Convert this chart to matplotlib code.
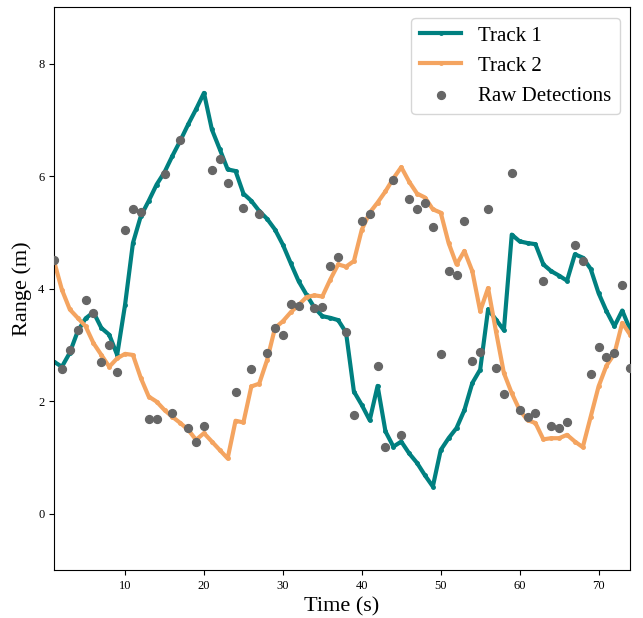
import matplotlib
matplotlib.use("Agg")
import matplotlib.pyplot as plt
import numpy as np

plt.rcParams["font.family"] = ["Liberation Serif", "DejaVu Serif"]

# time steps (s)
t = np.arange(1, 75)

track1 = [2.70, 2.61, 2.86, 3.24, 3.47, 3.58, 3.30, 3.18, 2.82, 3.71,
          4.81, 5.29, 5.56, 5.85, 6.07, 6.36, 6.63, 6.92, 7.19, 7.48,
          6.83, 6.48, 6.12, 6.09, 5.69, 5.56, 5.38, 5.24, 5.05, 4.78,
          4.45, 4.13, 3.89, 3.66, 3.51, 3.48, 3.44, 3.22, 2.17, 1.93,
          1.66, 2.27, 1.46, 1.19, 1.28, 1.07, 0.90, 0.68, 0.48, 1.13,
          1.34, 1.52, 1.84, 2.32, 2.56, 3.63, 3.45, 3.26, 4.96, 4.84,
          4.81, 4.79, 4.43, 4.31, 4.23, 4.14, 4.61, 4.55, 4.35, 3.92,
          3.60, 3.33, 3.61, 3.27]

track2 = [4.49, 3.98, 3.63, 3.48, 3.33, 3.03, 2.82, 2.61, 2.76, 2.84,
          2.82, 2.41, 2.08, 1.99, 1.84, 1.72, 1.61, 1.49, 1.31, 1.43,
          1.28, 1.13, 0.98, 1.65, 1.62, 2.26, 2.31, 2.73, 3.30, 3.42,
          3.58, 3.71, 3.85, 3.88, 3.86, 4.16, 4.43, 4.39, 4.49, 5.05,
          5.35, 5.53, 5.73, 5.96, 6.16, 5.90, 5.69, 5.62, 5.41, 5.35,
          4.81, 4.43, 4.67, 4.31, 3.60, 4.01, 3.24, 2.50, 2.14, 1.84,
          1.66, 1.61, 1.32, 1.34, 1.34, 1.40, 1.28, 1.18, 1.72, 2.26,
          2.63, 2.84, 3.39, 3.18]

# raw detections (one per step, none at t=33)
det_t = [1, 2, 3, 4, 5, 6, 7, 8, 9, 10, 11, 12, 13, 14, 15, 16, 17, 18, 19, 20,
         21, 22, 23, 24, 25, 26, 27, 28, 29, 30, 31, 32, 34, 35, 36, 37, 38, 39, 40,
         41, 42, 43, 44, 45, 46, 47, 48, 49, 50, 51, 52, 53, 54, 55, 56, 57, 58, 59,
         60, 61, 62, 63, 64, 65, 66, 67, 68, 69, 70, 71, 72, 73, 74]
det_r = [4.50, 2.57, 2.90, 3.27, 3.80, 3.57, 2.69, 3.00, 2.51, 5.04,
         5.42, 5.37, 1.69, 1.69, 6.04, 1.78, 6.64, 1.53, 1.28, 1.56,
         6.11, 6.31, 5.88, 2.17, 5.44, 2.57, 5.32, 2.85, 3.30, 3.18,
         3.73, 3.69, 3.66, 3.67, 4.40, 4.56, 3.22, 1.75, 5.20,
         5.33, 2.63, 1.19, 5.93, 1.39, 5.60, 5.41, 5.52, 5.10, 2.84,
         4.31, 4.24, 5.21, 2.72, 2.88, 5.41, 2.59, 2.12, 6.05, 1.84,
         1.71, 1.79, 4.14, 1.56, 1.52, 1.62, 4.77, 4.49, 2.48, 2.97,
         2.79, 2.85, 4.07, 2.59]

fig, ax = plt.subplots(figsize=(6.43, 6.18), dpi=100)
fig.subplots_adjust(left=0.084, right=0.98, top=0.988, bottom=0.078)

ax.plot(t, track1, color="#008080", lw=3, marker="o", ms=2.5, label="Track 1")
ax.plot(t, track2, color="#f4a460", lw=3, marker="o", ms=2.5, label="Track 2")
ax.scatter(det_t, det_r, color="#666666", s=32, zorder=3, label="Raw Detections")

ax.set_xlim(1, 74)
ax.set_ylim(-1, 9)
ax.set_yticks([0, 2, 4, 6, 8])
ax.set_xlabel("Time (s)", fontsize=16)
ax.set_ylabel("Range (m)", fontsize=16)
ax.tick_params(labelsize=9)
ax.legend(loc="upper right", fontsize=15)

fig.savefig("out.png", dpi=100)
